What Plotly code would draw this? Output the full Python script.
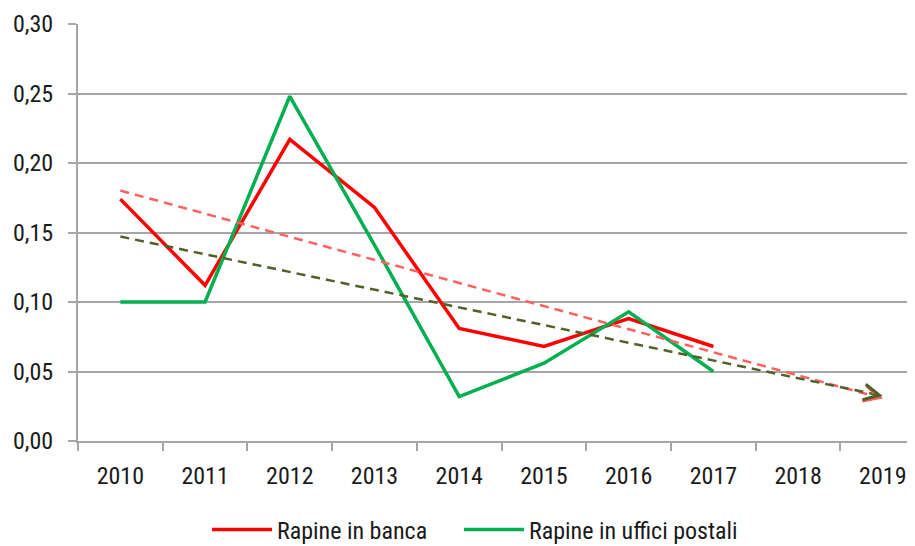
import numpy as np
import plotly.graph_objects as go

years = ["2010", "2011", "2012", "2013", "2014", "2015", "2016", "2017", "2018", "2019"]
data_years = years[:8]
banca = [0.174, 0.112, 0.217, 0.168, 0.081, 0.068, 0.088, 0.068]
poste = [0.100, 0.100, 0.248, 0.141, 0.032, 0.056, 0.093, 0.050]
y_ticks = [0.00, 0.05, 0.10, 0.15, 0.20, 0.25, 0.30]

FONT = "Liberation Sans Narrow, Roboto Condensed, Arial Narrow, Liberation Sans, sans-serif"
GRID = "#A6A6A6"
FS = 24
W, H = 907, 538  # page body adds an 8px offset


def trend(vals):
    idx = np.arange(len(vals))
    k, b = np.polyfit(idx, vals, 1)
    end = len(years) - 1
    return [b, b + k * end], k, b


tr_banca, kb, bb = trend(banca)
tr_poste, kp, bp = trend(poste)

fig = go.Figure()
fig.add_trace(go.Scatter(x=data_years, y=banca, mode="lines", name="Rapine in banca",
                         line=dict(color="#FF0000", width=3.5), legend="legend"))
fig.add_trace(go.Scatter(x=data_years, y=poste, mode="lines", name="Rapine in uffici postali",
                         line=dict(color="#00B050", width=3.5), legend="legend2"))
fig.add_trace(go.Scatter(x=[years[0], years[-1]], y=tr_banca, mode="lines", showlegend=False,
                         line=dict(color="#FF6060", width=2.5, dash="9px,6px")))
fig.add_trace(go.Scatter(x=[years[0], years[-1]], y=tr_poste, mode="lines", showlegend=False,
                         line=dict(color="#4F6228", width=2.5, dash="9px,6px")))

end = len(years) - 1
for k, b, col in [(kb, bb, "#FF6060"), (kp, bp, "#4F6228")]:
    start = end - 0.12
    fig.add_annotation(x=end, y=b + k * end, ax=start, ay=b + k * start,
                       xref="x", yref="y", axref="x", ayref="y",
                       showarrow=True, arrowhead=5, arrowsize=1.4, arrowwidth=2.2,
                       arrowcolor=col, text="")

leg_common = dict(orientation="h", xref="container", xanchor="left",
                  yref="container", y=16 / H, yanchor="middle",
                  font=dict(family=FONT, size=FS), itemwidth=60,
                  bgcolor="rgba(0,0,0,0)")

fig.update_layout(
    template="none",
    width=W, height=H,
    margin=dict(l=70, r=0, t=16, b=105, autoexpand=False),
    paper_bgcolor="white", plot_bgcolor="white",
    separators=",.",
    font=dict(family=FONT, size=FS, color="#1a1a1a"),
    showlegend=True,
    legend=dict(x=199 / W, **leg_common),
    legend2=dict(x=451 / W, **leg_common),
)
fig.update_xaxes(type="category", categoryorder="array", categoryarray=years,
                 range=[-0.5, 9.38], showgrid=False, showline=True, linecolor=GRID, linewidth=2,
                 ticks="outside", tickson="boundaries", ticklen=8, tickwidth=2, tickcolor=GRID,
                 tickfont=dict(family=FONT, size=FS), zeroline=False, automargin=False,
                 ticklabelstandoff=12)
fig.update_yaxes(range=[0, 0.30], tickvals=y_ticks, tickformat=".2f", showgrid=True,
                 gridcolor=GRID, gridwidth=2, showline=True, linecolor=GRID, linewidth=2,
                 ticks="outside", ticklen=8, tickwidth=2, tickcolor=GRID, zeroline=False,
                 tickfont=dict(family=FONT, size=FS), automargin=False, ticklabelstandoff=10)

fig.write_html("out.html")
